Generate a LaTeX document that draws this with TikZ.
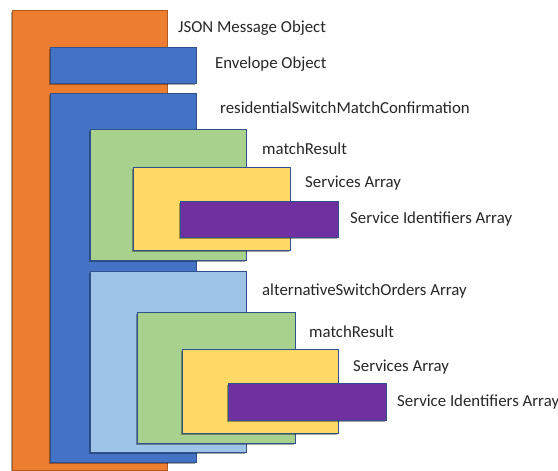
\documentclass[tikz,border=0pt]{standalone}
\usepackage{fontspec}
\setmainfont{Carlito}
\usetikzlibrary{shadows}
\definecolor{msgorange}{HTML}{ED7D31}
\definecolor{edgeorange}{HTML}{AE5A21}
\definecolor{objblue}{HTML}{4472C4}
\definecolor{edgeblue}{HTML}{2F528F}
\definecolor{resgreen}{HTML}{A9D18E}
\definecolor{svcyellow}{HTML}{FFD966}
\definecolor{idpurple}{HTML}{7030A0}
\definecolor{altblue}{HTML}{9DC3E6}
\definecolor{textgray}{HTML}{262626}
\begin{document}
\begin{tikzpicture}[x=1pt,y=-1pt,
    box/.style={line width=0.75pt, draw=edgeblue,
      drop shadow={shadow xshift=-1.5pt, shadow yshift=-1.8pt, opacity=0.35, fill=black}},
    boxtext/.style={anchor=west, inner sep=0pt, text=textgray,
      font=\fontsize{16.8}{20}\selectfont}]
    % Canvas
    \useasboundingbox (0,0) rectangle (558,471);
    % JSON message object
    \filldraw [box, fill=msgorange, draw=edgeorange] (12,10) rectangle (167,470);
    \node [boxtext] (jsonlbl) at (178,28) {JSON Message Object};
    % Envelope object
    \filldraw [box, fill=objblue] (50,47) rectangle (196,83);
    \node [boxtext] (envlbl) at (215,64) {Envelope Object};
    % Confirmation object
    \filldraw [box, fill=objblue] (50,93) rectangle (196,462);
    \node [boxtext] (conflbl) at (220,108) {residentialSwitchMatchConfirmation};
    % First match result and its arrays
    \filldraw [box, fill=resgreen] (90,129) rectangle (246,260);
    \node [boxtext] (matchlblA) at (262,149) {matchResult};
    \filldraw [box, fill=svcyellow] (133,167) rectangle (290,250);
    \node [boxtext] (svclblA) at (305,183) {Services Array};
    \filldraw [box, fill=idpurple] (180,201) rectangle (338,237);
    \node [boxtext] (idlblA) at (350,219) {Service Identifiers Array};
    % Alternative switch orders
    \filldraw [box, fill=altblue] (90,271) rectangle (246,452);
    \node [boxtext] (altlbl) at (262,291) {alternativeSwitchOrders Array};
    % Second match result and its arrays
    \filldraw [box, fill=resgreen] (137,312) rectangle (295,443);
    \node [boxtext] (matchlblB) at (309,332) {matchResult};
    \filldraw [box, fill=svcyellow] (182,349) rectangle (338,433);
    \node [boxtext] (svclblB) at (353,367) {Services Array};
    \filldraw [box, fill=idpurple] (228,383) rectangle (386,420);
    \node [boxtext] (idlblB) at (397,402) {Service Identifiers Array};
\end{tikzpicture}
\end{document}
